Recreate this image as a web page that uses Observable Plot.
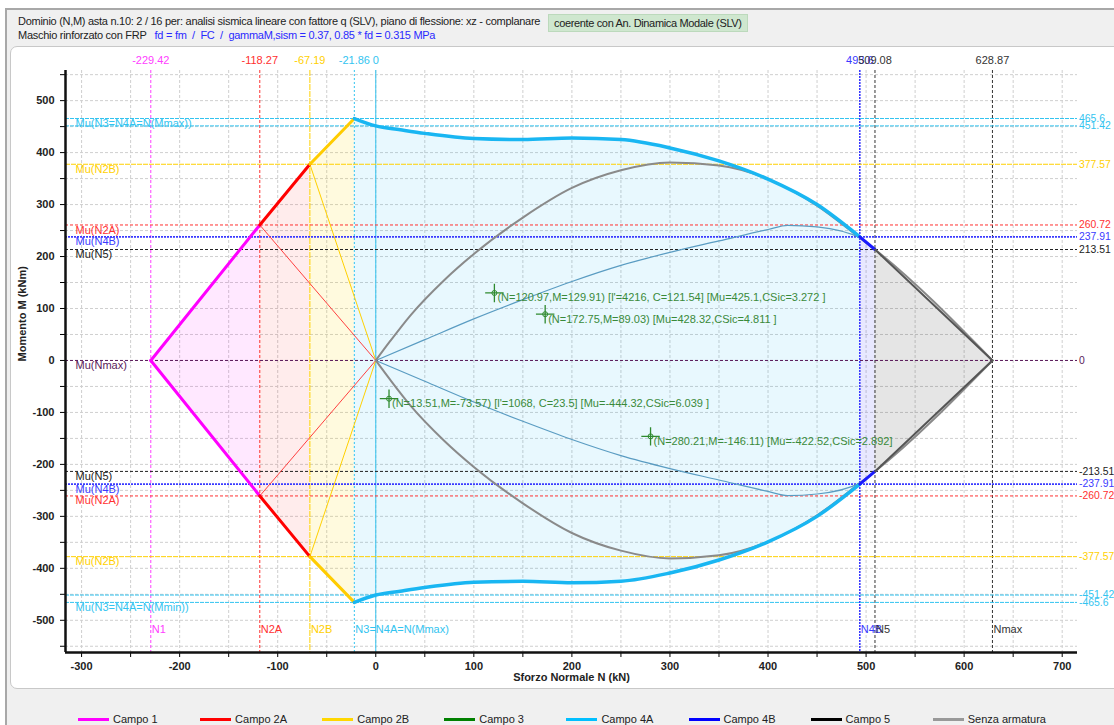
<!DOCTYPE html>
<html><head><meta charset="utf-8">
<script src="https://cdn.jsdelivr.net/npm/d3@7"></script>
<script src="https://cdn.jsdelivr.net/npm/@observablehq/plot@0.6"></script>
<style>
html,body{margin:0;padding:0;background:#fff;width:1114px;height:725px;overflow:hidden;font-family:"Liberation Sans",Arial,sans-serif;}
#frame{position:absolute;left:5px;top:8px;width:1120px;height:730px;background:#f0f0f0;border-top:2px solid #a8a8a8;border-left:2px solid #a8a8a8;}
.hl{position:absolute;font-size:11px;color:#222;white-space:nowrap;letter-spacing:-0.28px;}
#badge{position:absolute;left:548px;top:14px;height:16px;line-height:16px;padding:0 5px;background:#cfe7cf;border:1px solid #bcd9bc;font-size:11px;color:#222;white-space:nowrap;letter-spacing:-0.35px;}
#panel{position:absolute;left:10px;top:46px;width:1120px;height:641px;background:#fff;border:1px solid #c8c8c8;border-radius:7px;}
#chart{position:absolute;left:0;top:46px;}
.lg{position:absolute;top:712px;height:14px;font-size:11px;color:#222;white-space:nowrap;}
.lg span.ln{position:absolute;left:0;top:6px;width:31px;height:3px;}
.lg span.tx{position:absolute;left:35px;top:0;line-height:14px;}
</style></head>
<body>
<div id="frame"></div>
<div class="hl" style="left:18px;top:15px">Dominio (N,M) asta n.10: 2 / 16 per: analisi sismica lineare con fattore q (SLV), piano di flessione: xz - complanare</div>
<div id="badge">coerente con An. Dinamica Modale (SLV)</div>
<div class="hl" style="left:18px;top:29px">Maschio rinforzato con FRP &nbsp;&nbsp;<span style="color:#2a2aff">fd = fm &nbsp;/ &nbsp;FC &nbsp;/ &nbsp;gammaM,sism = 0.37, 0.85 * fd = 0.315 MPa</span></div>
<div id="panel"></div>
<div id="chart"></div>
<div id="legend"></div>
<script>
// ---- data ----
const keyNames = ["N1","N2A","N2B","N3=N4A=N(Mmax)","N4B","N5","Nmax"];
const keyN = [-229.42,-118.27,-67.19,-21.86,493.6,509.08,628.87];
const keyM = [0,260.72,377.57,465.6,237.91,213.51,0];
const vLineN = [-229.42,-118.27,-67.19,-21.86,0,493.6,509.08,628.87];
const vLineTop = ["-229.42","-118.27","-67.19","-21.86","0","493.6","509.08","628.87"];
const vLineName = ["N1","N2A","N2B","N3=N4A=N(Mmax)","","N4B","N5","Nmax"];
const hLineM = [465.6,451.42,377.57,260.72,237.91,213.51,0];
const hLineLeftPos = ["Mu(N3=N4A=N(Mmax))","","Mu(N2B)","Mu(N2A)","Mu(N4B)","Mu(N5)","Mu(Nmax)"];
const hLineLeftNeg = ["Mu(N3=N4A=N(Mmin))","","Mu(N2B)","Mu(N2A)","Mu(N4B)","Mu(N5)",""];
const c4aN = [-21.86,0,25,50,100,150,200,250,300,350,400,450,493.6];
const c4aM = [465.6,451.42,444,437,427,425,428,425,409,384,349,300,237.91];
const grayN = [0,15,35,70,100,150,200,250,300,350,400,450,493.6,509.08,628.87];
const grayM = [0,38,86,155,205,275,332,366,381,375,349,298,236,213.51,0];
const thinN = [0,50,100,150,200,250,300,350,400,420,450,493.6,509.08];
const thinM = [0,40,80,117,152,183,208,230,252,260,257,236,213.51];
const ptN = [120.97,172.75,13.51,280.21];
const ptM = [129.91,89.03,-73.57,-146.11];
const ptText = ["(N=120.97,M=129.91) [l'=4216, C=121.54] [Mu=425.1,CSic=3.272 ]",
  "(N=172.75,M=89.03) [Mu=428.32,CSic=4.811 ]",
  "(N=13.51,M=-73.57) [l'=1068, C=23.5] [Mu=-444.32,CSic=6.039 ]",
  "(N=280.21,M=-146.11) [Mu=-422.52,CSic=2.892]"];
const legendNames = ["Campo 1","Campo 2A","Campo 2B","Campo 3","Campo 4A","Campo 4B","Campo 5","Senza armatura"];

// ---- styles ----
const legendColors = ["#ff00ff","#ff0000","#ffd700","#008000","#00bfff","#0000ff","#000000","#999999"];
const vColors = ["#ff40ff","#ff3030","#ffd000","#33c4f0","#33c4f0","#3a3aff","#333333","#333333"];
const vDash = ["3,2","3,2","6,1","2,2",null,"2,1","3,2","3,2"];
const hColors = ["#33c4f0","#33c4f0","#ffd000","#ff3030","#3a3aff","#222222","#5a1a5a"];
const hDash = ["4,1","4,1","5,1","3,2","2,1","3,2","3,2"];
const xDom=[-316.4,715.6], yDom=[-562,558];

const pts = (N,M)=>N.map((n,i)=>({N:n,M:M[i]}));
const seg = (a,b)=>pts(keyN.slice(a,b+1), keyM.slice(a,b+1));
const c4a = pts(c4aN,c4aM);
const domains = [
  {p:seg(0,1), c:"#ff00ff", w:3, f:"#ff00ff", fo:0.09},
  {p:seg(1,2), c:"#ff0000", w:3, f:"#ff3030", fo:0.09},
  {p:seg(2,3), c:"#ffcc00", w:3, f:"#ffd700", fo:0.13},
  {p:c4a, c:"#19b6f2", w:3.5, f:"#00b0f0", fo:0.09},
  {p:seg(4,5), c:"#1a1aff", w:3, f:"#4040ff", fo:0.12},
  {p:seg(5,6), c:"#555555", w:2, f:"#000000", fo:0.1}
];
const mirror = arr=>arr.map(d=>({N:d.N,M:-d.M}));

const vData = vLineN.map((n,i)=>({N:n,top:vLineTop[i],name:vLineName[i],c:vColors[i],d:vDash[i]}));
const hData = [];
hLineM.forEach((m,i)=>{
  hData.push({M:m,label:String(m),left:hLineLeftPos[i],c:hColors[i],d:hDash[i]});
  if(m!==0) hData.push({M:-m,label:"-"+m,left:hLineLeftNeg[i],c:hColors[i],d:hDash[i]});
});
const points = ptN.map((n,i)=>({N:n,M:ptM[i],t:ptText[i]}));

const marks = [
  Plot.gridX(d3.range(-300,701,50),{stroke:"#cfcfcf",strokeOpacity:1,strokeDasharray:"3,2"}),
  Plot.gridY(d3.range(-550,551,50),{stroke:"#cfcfcf",strokeOpacity:1,strokeDasharray:"3,2"})
];
domains.forEach(d=>marks.push(Plot.areaY(d.p,{x:"N",y1:e=>-e.M,y2:"M",fill:d.f,fillOpacity:d.fo})));
vData.forEach(v=>marks.push(Plot.ruleX([v],{x:"N",stroke:v.c,strokeWidth:v.c==="#3a3aff"?1.6:1,strokeDasharray:v.d})));
hData.forEach(h=>marks.push(Plot.ruleY([h],{y:"M",stroke:h.c,strokeWidth:h.c==="#3a3aff"?1.6:1,strokeDasharray:h.d})));
// rays from origin
[[1,"#ff4040"],[2,"#ffd000"]].forEach(([k,c])=>{
  marks.push(Plot.line([{N:0,M:0},{N:keyN[k],M:keyM[k]}],{x:"N",y:"M",stroke:c,strokeWidth:1}));
  marks.push(Plot.line([{N:0,M:0},{N:keyN[k],M:-keyM[k]}],{x:"N",y:"M",stroke:c,strokeWidth:1}));
});
const thin = pts(thinN,thinM);
marks.push(Plot.line(thin,{x:"N",y:"M",stroke:"#5a9cc2",strokeWidth:1.2,curve:"monotone-x"}));
marks.push(Plot.line(mirror(thin),{x:"N",y:"M",stroke:"#5a9cc2",strokeWidth:1.2,curve:"monotone-x"}));
const gray = pts(grayN,grayM);
marks.push(Plot.line(gray,{x:"N",y:"M",stroke:"#8a8a8a",strokeWidth:2,curve:"monotone-x"}));
marks.push(Plot.line(mirror(gray),{x:"N",y:"M",stroke:"#8a8a8a",strokeWidth:2,curve:"monotone-x"}));
domains.forEach(d=>{
  marks.push(Plot.line(d.p,{x:"N",y:"M",stroke:d.c,strokeWidth:d.w,curve:"monotone-x"}));
  marks.push(Plot.line(mirror(d.p),{x:"N",y:"M",stroke:d.c,strokeWidth:d.w,curve:"monotone-x"}));
});
// labels
marks.push(Plot.text(vData,{x:"N",text:"top",frameAnchor:"top",dy:-14,fill:"c",fontSize:11}));
marks.push(Plot.text(vData,{x:"N",text:"name",frameAnchor:"bottom",dy:-20,dx:1,textAnchor:"start",fill:"c",fontSize:11}));
marks.push(Plot.text(hData,{y:"M",text:"left",frameAnchor:"left",dx:10,dy:5,textAnchor:"start",fill:"c",fontSize:11}));
marks.push(Plot.text(hData,{y:"M",text:"label",frameAnchor:"right",dx:1.5,textAnchor:"start",fill:"c",fontSize:10.4}));
// points
marks.push(Plot.dot(points,{x:"N",y:"M",symbol:"plus",r:6,stroke:"#2f8a2f",strokeWidth:1.3}));
marks.push(Plot.dot(points,{x:"N",y:"M",symbol:"circle",r:2.5,stroke:"#2f8a2f",strokeWidth:1}));
marks.push(Plot.text(points,{x:"N",y:"M",text:"t",dx:3,dy:5,textAnchor:"start",fill:"#3a8a3a",fontSize:11}));
// axes
marks.push(Plot.axisX({ticks:d3.range(-300,701,50),tickFormat:d=>d%100===0?String(d):"",tickSize:5,tickPadding:5,fontWeight:"bold",fontSize:11,fill:"#222",label:null}));
marks.push(Plot.axisY({ticks:d3.range(-550,551,50),tickFormat:d=>d%100===0?String(d):"",tickSize:5,tickPadding:6,fontWeight:"bold",fontSize:11,fill:"#222",label:null}));
marks.push(Plot.ruleX([xDom[0]],{stroke:"#111",strokeWidth:2.5}));
marks.push(Plot.ruleY([yDom[0]],{stroke:"#111",strokeWidth:2.5}));
marks.push(Plot.text(["Sforzo Normale N (kN)"],{frameAnchor:"bottom",dy:28,fontWeight:"bold",fontSize:11,fill:"#222"}));
marks.push(Plot.text(["Momento M (kNm)"],{frameAnchor:"left",dx:-43,rotate:-90,fontWeight:"bold",fontSize:11,fill:"#222"}));

const chart = Plot.plot({
  width:1114, height:641,
  marginLeft:65, marginRight:37, marginTop:24, marginBottom:35,
  x:{domain:xDom}, y:{domain:yDom},
  color:{type:"identity"},
  style:{fontFamily:"Liberation Sans, Arial, sans-serif",fontSize:"11px",background:"transparent",overflow:"visible"},
  marks
});
document.getElementById("chart").appendChild(chart);

const lg = document.getElementById("legend");
legendNames.forEach((n,i)=>{
  const d=document.createElement("div");
  d.className="lg"; d.style.left=(78+i*122.1)+"px";
  d.innerHTML=`<span class="ln" style="background:${legendColors[i]}"></span><span class="tx">${n}</span>`;
  lg.appendChild(d);
});
</script>
</body></html>
